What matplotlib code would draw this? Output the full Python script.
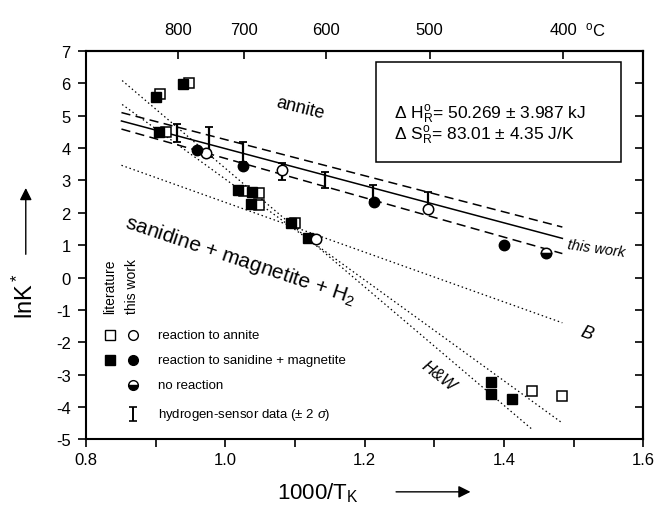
import matplotlib
matplotlib.use("Agg")
import matplotlib.pyplot as plt
import numpy as np
from matplotlib.patches import Rectangle

plt.rcParams['font.family'] = ['Liberation Sans', 'DejaVu Sans']
plt.rcParams['mathtext.fontset'] = 'custom'
plt.rcParams['mathtext.rm'] = 'Liberation Sans'
plt.rcParams['mathtext.it'] = 'Liberation Sans:italic'
plt.rcParams['axes.unicode_minus'] = False

# literature data (squares)
lit_open_x = [0.906, 0.948, 0.915, 1.027, 1.048, 1.048, 1.100, 1.441, 1.484]
lit_open_y = [5.66, 6.01, 4.49, 2.68, 2.62, 2.25, 1.67, -3.52, -3.66]
lit_filled_x = [0.900, 0.939, 0.905, 1.019, 1.039, 1.037, 1.094, 1.119, 1.381, 1.381, 1.411]
lit_filled_y = [5.59, 5.98, 4.51, 2.70, 2.65, 2.27, 1.69, 1.21, -3.23, -3.61, -3.76]

# this work (circles)
tw_open_x = [0.972, 1.081, 1.131, 1.291]
tw_open_y = [3.85, 3.31, 1.18, 2.12]
tw_filled_x = [0.959, 1.026, 1.213, 1.400]
tw_filled_y = [3.93, 3.45, 2.35, 0.99]
tw_none_x = [1.461]
tw_none_y = [0.77]

# hydrogen-sensor data (+-2 sigma)
sensor_x = [0.931, 0.976, 1.026, 1.081, 1.143, 1.212, 1.291]
sensor_hi = [4.74, 4.64, 4.20, 3.55, 3.27, 2.86, 2.63]
sensor_lo = [4.20, 3.72, 3.57, 3.03, 2.76, 2.40, 2.09]

# fit of this work and band
fit_x = [0.851, 1.484]
fit_y = [4.84, 1.21]
fit_hi_y = [5.10, 1.56]
fit_lo_y = [4.59, 0.74]

# literature curves
hw1_x = [0.852, 1.442]
hw1_y = [6.09, -4.72]
hw2_x = [0.852, 1.484]
hw2_y = [5.35, -4.50]
b_x = [0.851, 1.484]
b_y = [3.47, -1.40]

temps_c = [800, 700, 600, 500, 400]

fig = plt.figure(figsize=(6.61, 5.06), dpi=100)
ax = fig.add_axes([0.130, 0.130, 0.843, 0.767])

dot = (0, (1.2, 2.2))
ax.plot(hw1_x, hw1_y, color='k', lw=0.9, ls=dot)
ax.plot(hw2_x, hw2_y, color='k', lw=0.9, ls=dot)
ax.plot(b_x, b_y, color='k', lw=0.9, ls=dot)
ax.plot(fit_x, fit_y, color='k', lw=1.1)
ax.plot(fit_x, fit_hi_y, color='k', lw=1.1, ls=(0, (6, 3.5)))
ax.plot(fit_x, fit_lo_y, color='k', lw=1.1, ls=(0, (6, 3.5)))

s_mid = (np.array(sensor_hi) + np.array(sensor_lo)) / 2
s_err = [s_mid - np.array(sensor_lo), np.array(sensor_hi) - s_mid]
ax.errorbar(sensor_x, s_mid, yerr=s_err, fmt='none', ecolor='k',
            elinewidth=1.6, capsize=3, capthick=1.3)

ax.plot(lit_open_x, lit_open_y, 's', ms=7, mfc='white', mec='k', mew=1.1)
ax.plot(lit_filled_x, lit_filled_y, 's', ms=7, mfc='k', mec='k')
ax.plot(tw_open_x, tw_open_y, 'o', ms=7.5, mfc='white', mec='k', mew=1.1)
ax.plot(tw_filled_x, tw_filled_y, 'o', ms=7.5, mfc='k', mec='k')
ax.plot(tw_none_x, tw_none_y, 'o', ms=7.5, mfc='k', mec='k', mew=1.1,
        fillstyle='bottom', markerfacecoloralt='white')

ax.set_xlim(0.8, 1.6)
ax.set_ylim(-5, 7)
ax.set_xticks(np.arange(0.8, 1.61, 0.1))
ax.set_xticklabels(['0.8', '', '1.0', '', '1.2', '', '1.4', '', '1.6'])
ax.set_yticks(range(-5, 8))
ax.tick_params(axis='x', direction='out', length=6, width=1.2, pad=3, labelsize=12)
ax.tick_params(axis='y', direction='out', length=6, width=1.2, pad=5, labelsize=12)
for sp in ax.spines.values():
    sp.set_linewidth(1.5)

axr = ax.secondary_yaxis('right')
axr.set_yticks(range(-5, 8))
axr.tick_params(direction='in', length=6, width=1.2, labelright=False)
axr.spines['right'].set_linewidth(1.5)

axt = ax.secondary_xaxis('top')
axt.set_xticks([1000 / (t + 273.15) for t in temps_c])
axt.set_xticklabels([str(t) for t in temps_c])
axt.tick_params(direction='in', length=6, width=1.2, pad=10, labelsize=12)
axt.spines['top'].set_linewidth(1.5)
ax.text(0.895, 1.057, r'$^{\rm o}$C', transform=ax.transAxes, fontsize=12,
        ha='left', va='center')

# annotation box
ax.add_patch(Rectangle((0.521, 0.714), 0.439, 0.258, transform=ax.transAxes,
                       fill=False, lw=1.1, ec='k'))
ax.text(0.553, 0.827, r'Δ H$^{\rm o}_{\rm R}$= 50.269 ± 3.987 kJ', transform=ax.transAxes,
        fontsize=12.5, ha='left', va='baseline')
ax.text(0.553, 0.773, r'Δ S$^{\rm o}_{\rm R}$= 83.01 ± 4.35 J/K', transform=ax.transAxes,
        fontsize=12.5, ha='left', va='baseline')

# field labels
ax.text(1.108, 5.25, 'annite', fontsize=13, rotation=-14, ha='center', va='center')
ax.text(1.021, 0.57, 'sanidine + magnetite + H$_2$', fontsize=15, rotation=-18.5,
        ha='center', va='center')
ax.text(1.533, 0.91, 'this work', fontsize=10.5, style='italic', rotation=-8,
        ha='center', va='center')
ax.text(1.519, -1.71, 'B', fontsize=13, style='italic', rotation=-20,
        ha='center', va='center')
ax.text(1.306, -3.03, 'H&W', fontsize=12, style='italic', rotation=-38,
        ha='center', va='center')

# legend
ax.text(0.043, 0.325, 'literature', transform=ax.transAxes, rotation=90,
        fontsize=10, ha='center', va='bottom')
ax.text(0.082, 0.325, 'this work', transform=ax.transAxes, rotation=90,
        fontsize=10, ha='center', va='bottom')
rows = [0.268, 0.204, 0.140, 0.066]
ax.plot([0.043], [rows[0]], 's', ms=6.5, mfc='white', mec='k', mew=1, transform=ax.transAxes)
ax.plot([0.084], [rows[0]], 'o', ms=7, mfc='white', mec='k', mew=1, transform=ax.transAxes)
ax.plot([0.043], [rows[1]], 's', ms=6.5, mfc='k', mec='k', transform=ax.transAxes)
ax.plot([0.084], [rows[1]], 'o', ms=7, mfc='k', mec='k', transform=ax.transAxes)
ax.plot([0.084], [rows[2]], 'o', ms=7, mfc='k', mec='k', mew=1, fillstyle='bottom',
        markerfacecoloralt='white', transform=ax.transAxes)
ax.errorbar([0.084], [rows[3]], yerr=[0.018], fmt='none', ecolor='k', elinewidth=1.4,
            capsize=3, capthick=1.2, transform=ax.transAxes)
leg_text = ['reaction to annite', 'reaction to sanidine + magnetite', 'no reaction',
            r'hydrogen-sensor data (± 2 $\sigma$)']
for r, t in zip(rows, leg_text):
    ax.text(0.129, r, t, transform=ax.transAxes, fontsize=9.5, ha='left', va='center')

# axis labels with arrows
fig.text(0.481, 0.026, '1000/T$_{\\rm K}$', fontsize=16, ha='center', va='center')
ax.annotate('', xy=(0.716, 0.026), xytext=(0.595, 0.026), xycoords='figure fraction',
            arrowprops=dict(arrowstyle='-|>', color='k', lw=1, mutation_scale=18))
fig.text(0.039, 0.415, 'lnK$^*$', fontsize=17, rotation=90, ha='center', va='center')
ax.annotate('', xy=(0.039, 0.632), xytext=(0.039, 0.490), xycoords='figure fraction',
            arrowprops=dict(arrowstyle='-|>', color='k', lw=1, mutation_scale=18))

fig.savefig('out.png', dpi=100)
